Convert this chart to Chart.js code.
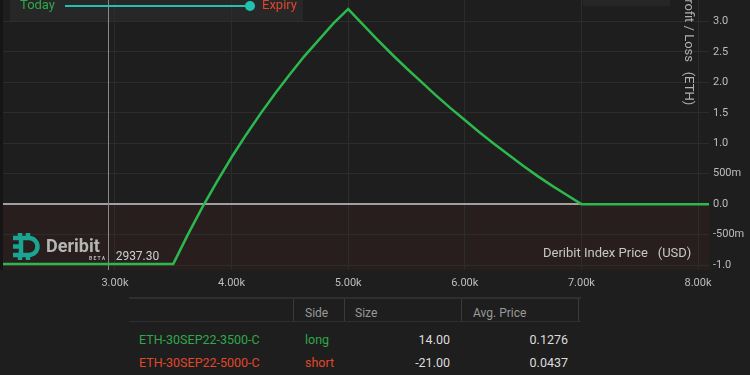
<!DOCTYPE html>
<html>
<head>
<meta charset="utf-8">
<script src="https://cdn.jsdelivr.net/npm/chart.js@4"></script>
<style>
  html, body { margin: 0; padding: 0; background: #1e1e1e; width: 750px; height: 375px; overflow: hidden; }
  #wrap { position: absolute; left: 0; top: 0; width: 750px; height: 297px; }
  #positions { position: absolute; left: 0; top: 297px; width: 750px; height: 78px; font-family: Roboto, sans-serif; font-size: 12px; }
  #positions span, #positions div { position: absolute; white-space: nowrap; }
  .hd { color: #9a9a9a; top: 9px; }
  .sep { top: 2px; width: 1px; height: 22px; background: #3a3a3a; }
  .num { color: #dcdcdc; text-align: right; width: 80px; }
  .long { color: #2ea84a; }
  .short { color: #e0472b; }
</style>
</head>
<body>
<div id="wrap"><canvas id="pnlChart"></canvas></div>
<div id="positions">
  <div style="left:129px; top:0; width:452px; height:2px; background:#2f2f2f;"></div>
  <div style="left:129px; top:24px; width:452px; height:1px; background:#2f2f2f;"></div>
  <div class="sep" style="left:293px;"></div>
  <div class="sep" style="left:344px;"></div>
  <div class="sep" style="left:461px;"></div>
  <div class="sep" style="left:578px;"></div>
  <span class="hd" style="left:305px;">Side</span>
  <span class="hd" style="left:355px;">Size</span>
  <span class="hd" style="left:473px;">Avg. Price</span>
  <div id="rows"></div>
</div>

<script>
// --- Data ---
const indexPrice = 2937.30;
const prices = [2040, 3500, 3625, 3750, 3875, 4000, 4125, 4250, 4375, 4500, 4625, 4750, 4875, 5000,
  5125, 5250, 5375, 5500, 5625, 5750, 5875, 6000, 6125, 6250, 6375, 6500, 6625, 6750, 6875, 7000, 8094];
const pnl = [-0.98, -0.98, -0.50, -0.05, 0.37, 0.77, 1.14, 1.49, 1.82, 2.13, 2.43, 2.70, 2.97, 3.20,
  2.95, 2.70, 2.46, 2.23, 2.01, 1.79, 1.58, 1.38, 1.18, 0.99, 0.81, 0.63, 0.46, 0.30, 0.15, 0.00, 0.00];
const xTicks = [3000, 4000, 5000, 6000, 7000, 8000];
const yTicks = [-1.0, -0.5, 0.0, 0.5, 1.0, 1.5, 2.0, 2.5, 3.0];

// positions table
const instruments = ['ETH-30SEP22-3500-C', 'ETH-30SEP22-5000-C'];
const sides = ['long', 'short'];
const sizes = [14.00, -21.00];
const avgPrices = [0.1276, 0.0437];

const rowsEl = document.getElementById('rows');
instruments.forEach((name, i) => {
  const top = 35 + i * 23;
  const cls = sides[i];
  rowsEl.innerHTML += `
    <span class="${cls}" style="left:139px; top:${top}px; font-size:12.5px;">${name}</span>
    <span class="${cls}" style="left:305px; top:${top}px; font-size:12.5px;">${sides[i]}</span>
    <span class="num" style="left:370px; top:${top}px; font-size:12.5px;">${sizes[i].toFixed(2)}</span>
    <span class="num" style="left:488px; top:${top}px; font-size:12.5px;">${avgPrices[i].toFixed(4)}</span>`;
});

function formatY(v) {
  if (Math.abs(v) === 0.5) return (v < 0 ? '-' : '') + '500m';
  return v.toFixed(1);
}

// backgrounds, legend box, overlays
const decorPlugin = {
  id: 'decor',
  beforeDraw(chart) {
    const { ctx, chartArea: a, scales: { y } } = chart;
    ctx.save();
    ctx.fillStyle = '#151515';
    ctx.fillRect(0, 0, a.left, a.bottom);
    // loss region
    const y0 = y.getPixelForValue(0);
    ctx.fillStyle = '#281e1d';
    ctx.fillRect(a.left, y0, a.right - a.left, a.bottom - y0);
    // legend box
    ctx.fillStyle = '#272727';
    ctx.fillRect(10, 0, 293, 22);
    ctx.fillStyle = '#262626';
    ctx.fillRect(583, 0, 87, 6);
    ctx.restore();
  },
  beforeDatasetsDraw(chart) {
    const { ctx, chartArea: a, scales: { x } } = chart;
    const px = Math.round(x.getPixelForValue(indexPrice)) + 0.5;
    ctx.save();
    ctx.strokeStyle = '#8a8a8a';
    ctx.lineWidth = 1;
    ctx.beginPath();
    ctx.moveTo(px, a.top);
    ctx.lineTo(px, a.bottom);
    ctx.stroke();
    ctx.restore();
  },
  afterDraw(chart) {
    const { ctx, scales: { x } } = chart;
    ctx.save();
    // legend
    ctx.textBaseline = 'middle';
    ctx.font = '13px Roboto, sans-serif';
    ctx.fillStyle = '#2ea84a';
    ctx.fillText('Today', 20, 6);
    ctx.strokeStyle = '#1fc2b0';
    ctx.lineWidth = 2;
    ctx.beginPath();
    ctx.moveTo(65, 6);
    ctx.lineTo(250, 6);
    ctx.stroke();
    ctx.fillStyle = '#1fc2b0';
    ctx.beginPath();
    ctx.arc(250, 6, 5, 0, Math.PI * 2);
    ctx.fill();
    ctx.fillStyle = '#e0472b';
    ctx.fillText('Expiry', 262, 6);

    // y title, rotated
    ctx.save();
    ctx.translate(688, -9);
    ctx.rotate(Math.PI / 2);
    ctx.fillStyle = '#b0b0b0';
    ctx.font = '13px Roboto, sans-serif';
    ctx.textAlign = 'left';
    ctx.fillText('Profit / Loss   (ETH)', 0, 0);
    ctx.restore();

    // x title
    ctx.fillStyle = '#c8c8c8';
    ctx.font = '13px Roboto, sans-serif';
    ctx.fillText('Deribit Index Price   (USD)', 543, 254);

    // index price label
    ctx.font = '12px Roboto, sans-serif';
    ctx.fillStyle = '#cfcfcf';
    ctx.fillText(indexPrice.toFixed(2), x.getPixelForValue(indexPrice) + 8, 257);

    // logo
    ctx.strokeStyle = '#1aa592';
    ctx.lineWidth = 4.5;
    ctx.lineCap = 'butt';
    ctx.beginPath();
    ctx.moveTo(13, 238);
    ctx.lineTo(29, 238);
    ctx.arc(29, 246.5, 8.5, -Math.PI / 2, Math.PI / 2);
    ctx.lineTo(13, 255);
    ctx.moveTo(21, 238);
    ctx.lineTo(21, 255);
    ctx.moveTo(13, 246.5);
    ctx.lineTo(21, 246.5);
    ctx.moveTo(20, 233); ctx.lineTo(20, 238);
    ctx.moveTo(28, 233); ctx.lineTo(28, 238);
    ctx.moveTo(20, 255); ctx.lineTo(20, 260);
    ctx.moveTo(28, 255); ctx.lineTo(28, 260);
    ctx.stroke();
    ctx.fillStyle = '#b5b5b5';
    ctx.font = 'bold 18px Roboto, sans-serif';
    ctx.fillText('Deribit', 46, 247);
    ctx.font = 'bold 5px Roboto, sans-serif';
    ctx.fillText('B E T A', 89, 259);
    ctx.restore();
  }
};

const ctx = document.getElementById('pnlChart').getContext('2d');
new Chart(ctx, {
  type: 'line',
  data: {
    datasets: [{
      data: prices.map((p, i) => ({ x: p, y: pnl[i] })),
      borderColor: '#2db84d',
      borderWidth: 2.5,
      pointRadius: 0,
      tension: 0,
      fill: false
    }]
  },
  options: {
    responsive: true,
    maintainAspectRatio: false,
    animation: false,
    layout: { padding: { left: 3, top: 0, right: 0, bottom: 0 } },
    plugins: { legend: { display: false }, tooltip: { enabled: false } },
    scales: {
      x: {
        type: 'linear',
        min: 2040,
        max: 8094,
        afterBuildTicks: s => { s.ticks = xTicks.map(v => ({ value: v })); },
        afterFit: s => { s.height = 27; s.paddingLeft = 0; s.paddingRight = 0; },
        grid: { color: '#2c2c2c', drawTicks: false },
        border: { display: false },
        ticks: {
          color: '#bdbdbd',
          font: { family: 'Roboto', size: 11 },
          padding: 7,
          maxRotation: 0,
          callback: v => (v / 1000).toFixed(2) + 'k'
        }
      },
      y: {
        position: 'right',
        min: -1.08,
        max: 3.35,
        afterBuildTicks: s => { s.ticks = yTicks.map(v => ({ value: v })); },
        afterFit: s => { s.width = 41; s.paddingTop = 0; s.paddingBottom = 0; },
        grid: {
          drawTicks: false,
          color: c => c.tick && c.tick.value === 0 ? '#a0a0a0' : '#2c2c2c',
          lineWidth: c => c.tick && c.tick.value === 0 ? 2 : 1
        },
        border: { display: false },
        ticks: {
          color: '#bdbdbd',
          font: { family: 'Roboto', size: 11 },
          padding: 4,
          callback: v => formatY(v)
        }
      }
    }
  },
  plugins: [decorPlugin]
});
</script>
</body>
</html>
